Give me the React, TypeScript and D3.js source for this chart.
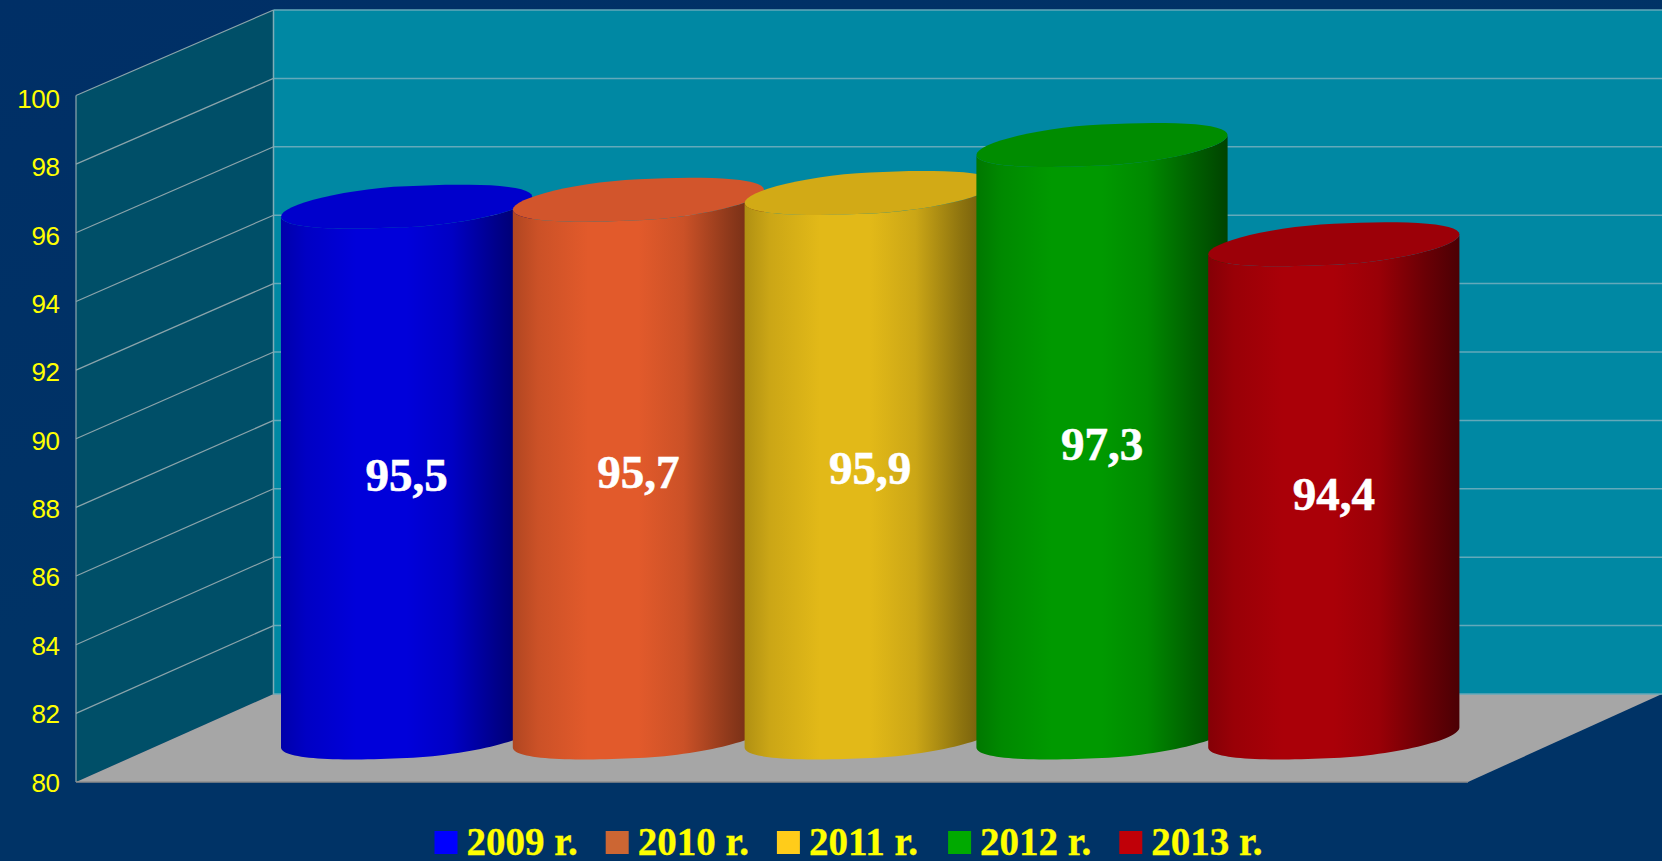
import React from 'react';
import { scaleBand, scaleLinear, range, line, rgb } from 'd3';

const width = 1662;
const height = 861;

const years = ['2009 r.', '2010 r.', '2011 r.', '2012 r.', '2013 r.'];
const values = [95.5, 95.7, 95.9, 97.3, 94.4];
const valueLabels = ['95,5', '95,7', '95,9', '97,3', '94,4'];
const barColors = ['#0000da', '#e25a2b', '#e2b918', '#009900', '#aa0008'];
const topColors = ['#0000cc', '#d2552c', '#d2aa16', '#008c00', '#9c0008'];
const legendColors = ['#0000ff', '#cc6633', '#ffcc1a', '#00aa00', '#c00008'];
const ticks = [80, 82, 84, 86, 88, 90, 92, 94, 96, 98, 100];

// front edge of the side wall and the back wall, bars stand half way between
const yFront = scaleLinear().domain([80, 100]).range([782, 95.5]);
const yBack = scaleLinear().domain([80, 100]).range([694, 10]);
const yBar = scaleLinear().domain([80, 100]).range([737.5, 52.5]);
const yLabel = scaleLinear().domain([80, 100]).range([791.5, 108]);
const xBar = scaleBand().domain(years).range([290.7, 1449.7]);

const frontX = 76;
const backX = 273.5;
const floorRight = 1468;

const rx = 125.6;
const tilt = 10;
const ry = 20.5;

const curve = line();
const pow = (v: number, e: number) => Math.sign(v) * Math.pow(Math.abs(v), e);
// not quite a true ellipse, the lids in the picture peak nearer the middle
const arc = (cx: number, cy: number, from: number, to: number) =>
  range(61).map(i => {
    const t = from + ((to - from) * i) / 60;
    return [cx + rx * Math.cos(t), cy - tilt * pow(Math.cos(t), 1.25) + ry * Math.sin(t)] as [number, number];
  });

function App() {
  return (
    <svg width={width} height={height} style={{ position: 'absolute', left: 0, top: 0, display: 'block' }}>
      <defs>
        <linearGradient id="bg" x1="0" y1="0" x2="0.35" y2="0.5">
          <stop offset="0" stopColor="#002f66" />
          <stop offset="1" stopColor="#003366" />
        </linearGradient>
        {barColors.map((c, i) => (
          <linearGradient key={c} id={`bar${i}`} x1="0" x2="1" y1="0" y2="0">
            <stop offset="0" stopColor={rgb(c).darker(0.7).formatHex()} />
            <stop offset="0.1" stopColor={rgb(c).darker(0.3).formatHex()} />
            <stop offset="0.3" stopColor={c} />
            <stop offset="0.5" stopColor={c} />
            <stop offset="0.68" stopColor={rgb(c).darker(0.3).formatHex()} />
            <stop offset="0.86" stopColor={rgb(c).darker(1.3).formatHex()} />
            <stop offset="1" stopColor={rgb(c).darker(2.3).formatHex()} />
          </linearGradient>
        ))}
      </defs>

      <rect width={width} height={height} fill="url(#bg)" />

      {/* walls and floor */}
      <rect x={backX} y={yBack(100)} width={width - backX} height={yBack(80) - yBack(100)} fill="#0088a3" />
      <polygon
        points={`${frontX},${yFront(80)} ${frontX},${yFront(100)} ${backX},${yBack(100)} ${backX},${yBack(80)}`}
        fill="#004f68"
      />
      <polygon
        points={`${frontX},${yFront(80)} ${backX},${yBack(80)} ${width},${yBack(80)} ${floorRight},${yFront(80)}`}
        fill="#a6a6a6"
      />

      {/* grid */}
      {ticks.map(t => (
        <g key={t}>
          <line x1={backX} x2={width} y1={yBack(t)} y2={yBack(t)} stroke="#63a9ba" strokeWidth={1.5} />
          {t > 80 && (
            <line x1={frontX} x2={backX} y1={yFront(t)} y2={yBack(t)} stroke="#8ba4ab" strokeWidth={1.2} />
          )}
        </g>
      ))}
      <line x1={backX} x2={backX} y1={yBack(100)} y2={yBack(80)} stroke="#7fadb7" strokeWidth={1.5} />
      <line x1={frontX} x2={frontX} y1={yFront(100)} y2={yFront(80)} stroke="#8fa6ae" strokeWidth={1.2} />
      <line x1={frontX} x2={floorRight} y1={yFront(80)} y2={yFront(80)} stroke="#8c8c8c" strokeWidth={1.5} />

      {/* axis labels */}
      {ticks.map(t => (
        <text
          key={t}
          x={59.5}
          y={yLabel(t)}
          textAnchor="end"
          fontFamily="'Liberation Sans', Arial, sans-serif"
          fontSize={26}
          letterSpacing={-0.4}
          fill="#ffff00"
        >
          {t}
        </text>
      ))}

      {/* cylinders, left one first so the next overlaps it */}
      {years.map((y, i) => {
        const cx = (xBar(y) as number) + xBar.bandwidth() / 2;
        const top = yBar(values[i]);
        const bottom = yBar(80);
        const body = [...arc(cx, bottom, Math.PI, 0), ...arc(cx, top, 0, Math.PI)];
        const lid = arc(cx, top, 0, Math.PI * 2);
        return (
          <g key={y}>
            <path d={`${curve(body)}Z`} fill={`url(#bar${i})`} />
            <path d={`${curve(lid)}Z`} fill={topColors[i]} />
          </g>
        );
      })}

      {/* value labels */}
      {years.map((y, i) => (
        <text
          key={y}
          x={(xBar(y) as number) + xBar.bandwidth() / 2}
          y={(yBar(values[i]) + yBar(80)) / 2 + 19}
          textAnchor="middle"
          fontFamily="'Liberation Serif', 'Times New Roman', serif"
          fontWeight="bold"
          fontSize={47}
          stroke="#ffffff"
          strokeWidth={0.6}
          fill="#ffffff"
        >
          {valueLabels[i]}
        </text>
      ))}

      {/* legend */}
      {years.map((y, i) => (
        <g key={y} transform={`translate(${434.5 + i * 171.2},0)`}>
          <rect x={0} y={831} width={23} height={23} fill={legendColors[i]} />
          <text
            x={32}
            y={855}
            fontFamily="'Liberation Serif', 'Times New Roman', serif"
            fontWeight="bold"
            fontSize={39}
            stroke="#ffff00"
            strokeWidth={0.3}
            fill="#ffff00"
          >
            {y}
          </text>
        </g>
      ))}
    </svg>
  );
}

export default App;
